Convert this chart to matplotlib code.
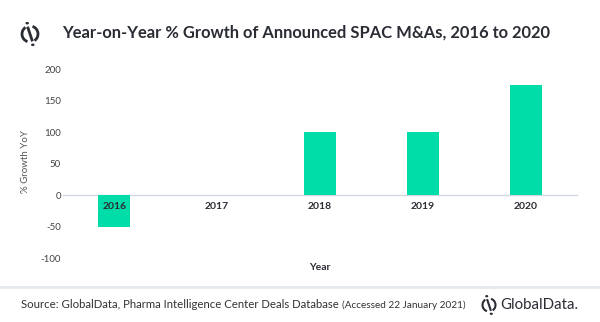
import matplotlib
matplotlib.use("Agg")
import matplotlib.pyplot as plt
from matplotlib.patches import Arc, Circle
from matplotlib.lines import Line2D

years = ["2016", "2017", "2018", "2019", "2020"]
growth = [-50, 0, 100, 100, 175]
y_ticks = [-100, -50, 0, 50, 100, 150, 200]

plt.rcParams['font.family'] = ['Lato', 'DejaVu Sans']

W, H = 600, 322
fig = plt.figure(figsize=(6, 3.22), dpi=100)
fig.patch.set_facecolor('white')

ax = fig.add_axes([63 / W, 1 - 258.3 / H, (577 - 63) / W, (258.3 - 69.3) / H])
for s in ['top', 'right', 'left']:
    ax.spines[s].set_visible(False)
ax.spines['bottom'].set_position(('data', 0))
ax.spines['bottom'].set_color('#D3D8E0')
ax.spines['bottom'].set_linewidth(1.0)
ax.spines['bottom'].set_zorder(0.5)

x = list(range(len(years)))
ax.bar(x, growth, width=0.31, color='#00DDA8', zorder=1)
ax.set_xlim(-0.5, 4.5)
ax.set_ylim(-100, 200)
ax.set_yticks(y_ticks)
ax.set_yticklabels([str(v) for v in y_ticks], fontsize=7, color='#444444')
ax.set_xticks(x)
ax.set_xticklabels(years, fontsize=7.5, fontweight='bold', color='#2B2D35')
ax.tick_params(axis='both', length=0)
ax.tick_params(axis='x', pad=5)
ax.tick_params(axis='y', pad=1.5)
ax.xaxis.set_zorder(3)
ax.set_facecolor('none')

fig.text(320 / W, 1 - 268 / H, "Year", ha='center', va='center',
         fontsize=7.5, fontweight='bold', color='#2B2D35')
fig.text(25 / W, 1 - 162 / H, "% Growth YoY", rotation=90, ha='center', va='center',
         fontsize=7, color='#555555')

# Title
fig.text(62 / W, 1 - 33 / H, "Year-on-Year % Growth of Announced SPAC M&As, 2016 to 2020",
         ha='left', va='center', fontsize=11.9, fontweight='bold', color='#2B2D35')


def logo(cx, cy, r, lw):
    tr = fig.transFigure
    sx, sy = 1 / W, 1 / H
    arc1 = Arc((cx * sx, 1 - cy * sy), 2 * r * sx, 2 * r * sy, theta1=110, theta2=260,
               transform=tr, color='#2B2D35', lw=lw)
    arc2 = Arc((cx * sx, 1 - cy * sy), 2 * r * sx, 2 * r * sy, theta1=290, theta2=80,
               transform=tr, color='#2B2D35', lw=lw)
    fig.add_artist(arc1)
    fig.add_artist(arc2)
    fig.add_artist(Line2D([(cx - r * 0.25) * sx, (cx + r * 0.25) * sx],
                          [1 - (cy - r * 0.75) * sy, 1 - (cy + r * 0.75) * sy],
                          transform=tr, color='#2B2D35', lw=lw))
    for dx, dy in [(-r * 0.35, -r * 1.35), (r * 0.35, r * 1.35)]:
        fig.add_artist(Circle(((cx + dx) * sx, 1 - (cy + dy) * sy), r * 0.13 * sx,
                              transform=tr, color='#2B2D35'))


logo(30, 34, 8, 2.0)

# Footer
fig.add_artist(Line2D([0, 1], [1 - 287 / H, 1 - 287 / H], transform=fig.transFigure,
                      color='#E6E9EE', lw=2))
t1 = fig.text(21 / W, 1 - 305 / H, "Source: GlobalData, Pharma Intelligence Center Deals Database",
              ha='left', va='center', fontsize=8.2, color='#333333')
fig.canvas.draw()
bb = t1.get_window_extent()
fig.text(bb.x1 / W + 3 / W, 1 - 305 / H, "(Accessed 22 January 2021)", ha='left', va='center',
         fontsize=7.2, color='#333333')
logo(489, 305, 6.5, 1.5)
fig.text(500 / W, 1 - 305 / H, "GlobalData.", ha='left', va='center', fontsize=10.8,
         color='#2B2D35')

fig.savefig("out.png", dpi=100, facecolor='white')
